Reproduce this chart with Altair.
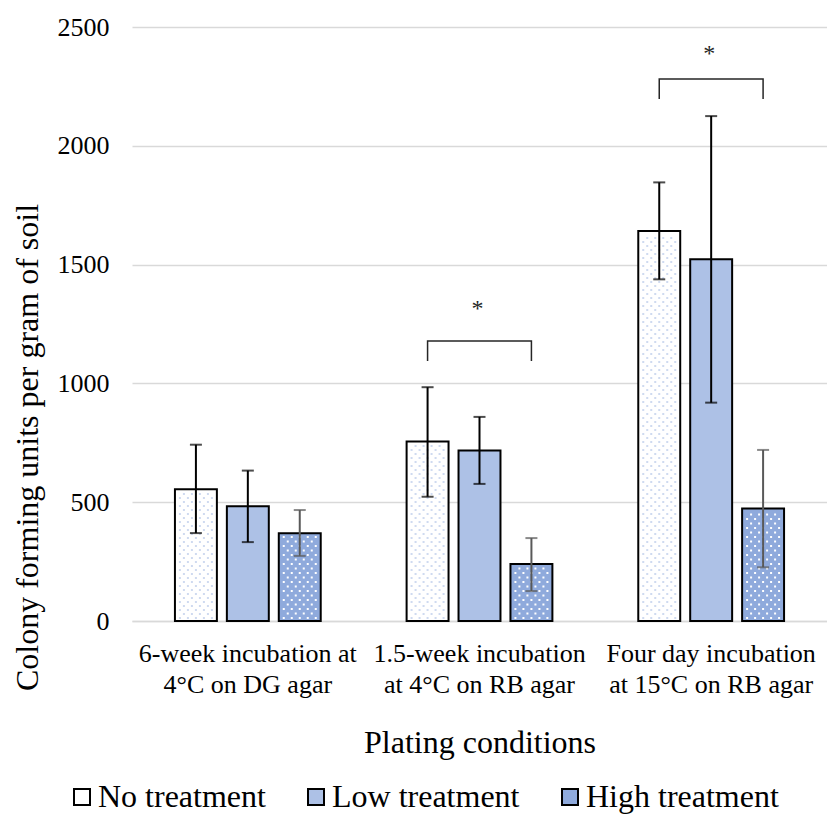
import altair as alt
import pandas as pd

categories = [
    "6-week incubation at|4°C on DG agar",
    "1.5-week incubation|at  4°C on RB agar",
    "Four day incubation|at  15°C on RB agar",
]
treatments = ["No treatment", "Low treatment", "High treatment"]

no_mean = [555, 755, 1641]
low_mean = [483, 718, 1522]
high_mean = [369, 240, 473]

no_lo = [370, 523, 1438]
no_hi = [742, 984, 1846]
low_lo = [332, 577, 919]
low_hi = [633, 859, 2125]
high_lo = [274, 126, 226]
high_hi = [467, 349, 720]

# significance brackets (category, top of bracket, end of legs, star height)
bracket_cats = [categories[1], categories[2]]
bracket_top = [1178, 2281]
bracket_leg = [1094, 2197]
star_y = [1340, 2410]

fills = ["#ffffff", "#adc1e6", "#8faadc"]

rows = []
for i, c in enumerate(categories):
    for t, m, lo, hi in zip(
        treatments,
        [no_mean[i], low_mean[i], high_mean[i]],
        [no_lo[i], low_lo[i], high_lo[i]],
        [no_hi[i], low_hi[i], high_hi[i]],
    ):
        rows.append({"cat": c, "treatment": t, "mean": m, "lo": lo, "hi": hi})
df = pd.DataFrame(rows)

brows = []
for c, top, leg in zip(bracket_cats, bracket_top, bracket_leg):
    brows += [
        {"cat": c, "treatment": treatments[0], "y": leg, "o": 0},
        {"cat": c, "treatment": treatments[0], "y": top, "o": 1},
        {"cat": c, "treatment": treatments[2], "y": top, "o": 2},
        {"cat": c, "treatment": treatments[2], "y": leg, "o": 3},
    ]
bdf = pd.DataFrame(brows)
sdf = pd.DataFrame({"cat": bracket_cats, "y": star_y, "s": ["*", "*"]})

FONT = "Liberation Serif"
PX = 594 / 2500.0  # pixels per data unit (for pattern spacing only)

xenc = alt.X(
    "cat:N",
    sort=categories,
    scale=alt.Scale(domain=categories, paddingInner=0, paddingOuter=0),
    title="Plating conditions",
    axis=alt.Axis(
        labelExpr="split(datum.label, '|')",
        labelAngle=0,
        labelFont=FONT,
        labelFontSize=26,
        labelColor="black",
        labelLineHeight=31,
        labelPadding=19,
        labelLimit=400,
        ticks=False,
        tickSize=0,
        domainColor="#d9d9d9",
        domainWidth=1.5,
        grid=False,
        titleFont=FONT,
        titleFontSize=32,
        titleFontWeight="normal",
        titleColor="black",
        titleBaseline="alphabetic",
        titleY=131,
    ),
)
xoff = alt.XOffset(
    "treatment:N",
    sort=treatments,
    scale=alt.Scale(domain=treatments, paddingInner=0.1923, paddingOuter=0.827),
)
yscale = alt.Scale(domain=[0, 2500], nice=False, zero=True)
yaxis = alt.Axis(
    values=[0, 500, 1000, 1500, 2000, 2500],
    format="d",
    grid=True,
    gridColor="#d9d9d9",
    gridWidth=1.5,
    domain=False,
    ticks=False,
    tickSize=0,
    labelPadding=23,
    labelFont=FONT,
    labelFontSize=26,
    labelColor="black",
    titleFont=FONT,
    titleFontSize=32,
    titleFontWeight="normal",
    titleColor="black",
    titleBaseline="alphabetic",
    titleX=-95,
    titleY=420,
)

bars = alt.Chart(df).mark_bar(stroke="black", strokeWidth=2).encode(
    x=xenc,
    xOffset=xoff,
    y=alt.Y("mean:Q", scale=yscale, axis=yaxis,
            title="Colony forming units per gram of soil"),
    fill=alt.Fill(
        "treatment:N",
        sort=treatments,
        scale=alt.Scale(domain=treatments, range=fills),
        legend=alt.Legend(
            orient="none",
            legendX=-66,
            legendY=754,
            direction="horizontal",
            title=None,
            labelFont=FONT,
            labelFontSize=32,
            labelColor="black",
            labelLimit=400,
            symbolType="square",
            symbolSize=256,
            symbolStrokeColor="black",
            symbolStrokeWidth=2,
            symbolOpacity=1,
            labelOffset=0,
            columnPadding=34,
        ),
    ),
)


def row_shape(xs_px, half_px=1.0, scale_px=10.0):
    parts = []
    for x in xs_px:
        x0 = (x - half_px) / scale_px
        h = half_px / scale_px
        parts.append(f"M{x0:.3f},{-h:.3f}h{2*h:.3f}v{2*h:.3f}h{-2*h:.3f}Z")
    return " ".join(parts)


def dot_layers(treat, color, row_px, xs_even, xs_odd, margin_px):
    out = []
    for parity, xs in ((0, xs_even), (1, xs_odd)):
        start = (margin_px + parity * row_px) / PX
        step = 2 * row_px / PX
        stop_margin = margin_px / PX
        out.append(
            alt.Chart(df)
            .transform_filter(alt.datum.treatment == treat)
            .transform_calculate(
                ys=f"sequence({start}, datum.mean - {stop_margin}, {step})"
            )
            .transform_flatten(["ys"])
            .mark_point(shape=row_shape(xs), size=400, filled=True, fill=color,
                        opacity=1, strokeWidth=0)
            .encode(
                x=alt.X("cat:N", sort=categories),
                xOffset=alt.XOffset("treatment:N", sort=treatments),
                y=alt.Y("ys:Q"),
            )
        )
    return out


high_dots = dot_layers("High treatment", "white", 4.5,
                       [-16, -8, 0, 8, 16], [-12, -4, 4, 12], 3)
no_dots = dot_layers("No treatment", "#cfdaf0", 4,
                     [-16, -8, 0, 8, 16], [-12, -4, 4, 12], 3)

ecolor = alt.condition(
    alt.datum.treatment == "High treatment", alt.value("#595959"), alt.value("black")
)

rules = alt.Chart(df).mark_rule(strokeWidth=2).encode(
    x=alt.X("cat:N", sort=categories),
    xOffset=alt.XOffset("treatment:N", sort=treatments),
    y="lo:Q",
    y2="hi:Q",
    stroke=ecolor,
)
cap_hi = alt.Chart(df).mark_tick(orient="horizontal", size=12, thickness=2).encode(
    x=alt.X("cat:N", sort=categories),
    xOffset=alt.XOffset("treatment:N", sort=treatments),
    y="hi:Q",
    color=ecolor,
)
cap_lo = alt.Chart(df).mark_tick(orient="horizontal", size=12, thickness=2).encode(
    x=alt.X("cat:N", sort=categories),
    xOffset=alt.XOffset("treatment:N", sort=treatments),
    y="lo:Q",
    color=ecolor,
)

bracket = alt.Chart(bdf).mark_line(color="#262626", strokeWidth=1.5).encode(
    x=alt.X("cat:N", sort=categories),
    xOffset=alt.XOffset("treatment:N", sort=treatments),
    y="y:Q",
    detail="cat:N",
    order="o:Q",
)

stars = alt.Chart(sdf).mark_text(
    font=FONT, fontSize=24, color="#262626", baseline="middle", dy=6, dx=-2
).encode(
    x=alt.X("cat:N", sort=categories),
    y="y:Q",
    text="s:N",
)

chart = (
    alt.layer(bars, *high_dots, *no_dots, rules, cap_hi, cap_lo, bracket, stars)
    .properties(
        width=695,
        height=594,
        padding={"left": 132, "top": 27, "right": 0, "bottom": 193},
        autosize=alt.AutoSizeParams(type="none"),
    )
    .configure_view(stroke=None)
)

chart.save("out.html", embed_options={"renderer": "svg", "actions": False})
